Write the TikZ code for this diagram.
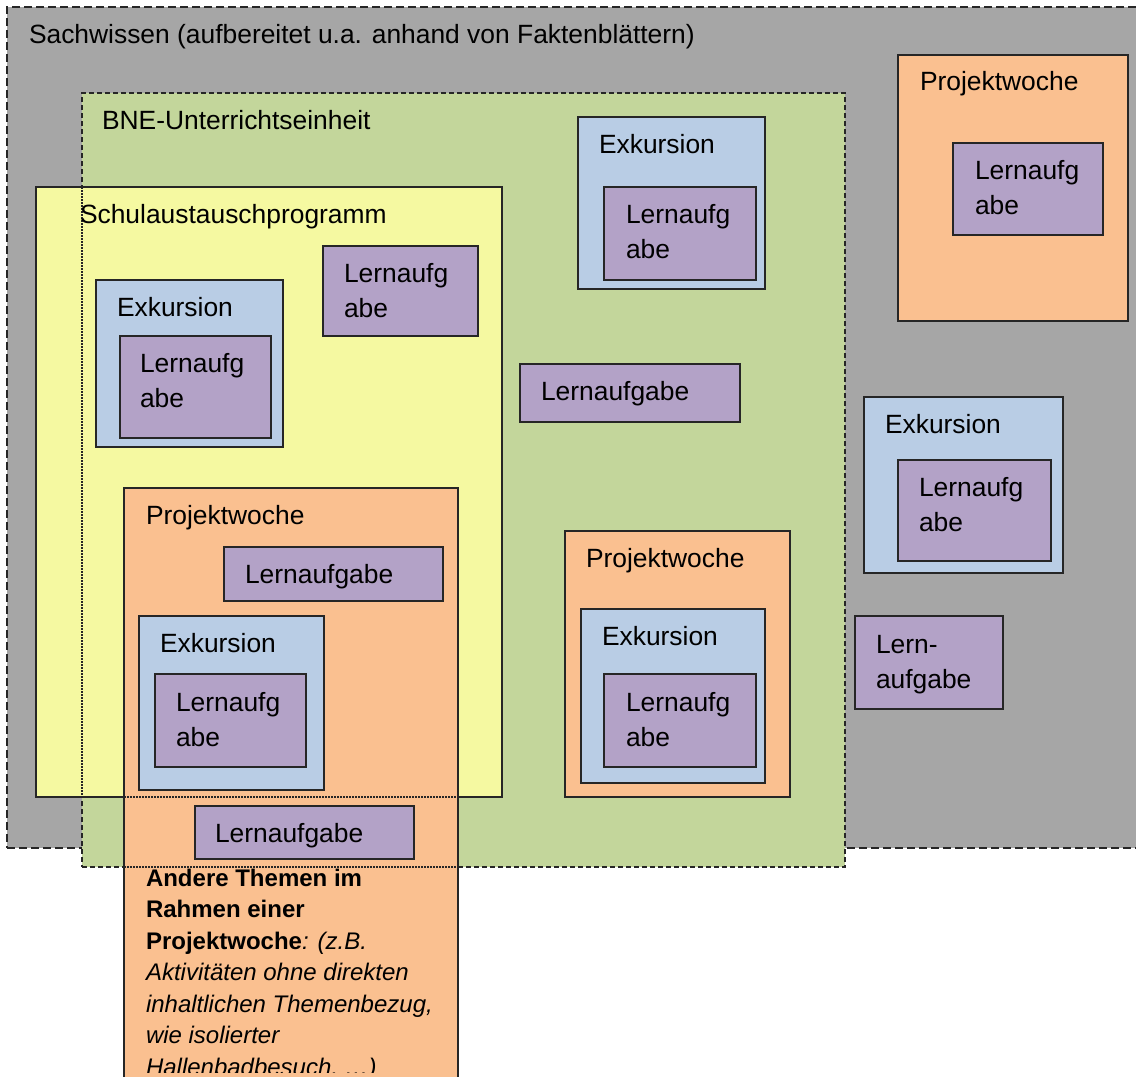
\documentclass[tikz,border=0pt]{standalone}
\usepackage{fontspec}
\setmainfont{Liberation Sans}
\definecolor{cgray}{HTML}{A6A6A6}
\definecolor{cgreen}{HTML}{C3D69B}
\definecolor{cyellow}{HTML}{F5F9A1}
\definecolor{corange}{HTML}{FAC090}
\definecolor{cblue}{HTML}{B9CDE5}
\definecolor{cpurple}{HTML}{B3A2C7}
\definecolor{cline}{HTML}{262626}
\begin{document}
\begin{tikzpicture}[x=1pt,y=-1pt,
  frame/.style={draw=cline, line width=1.3pt, inner sep=0pt, outer sep=0pt, anchor=north west},
  sachbox/.style={frame, fill=cgray, dash pattern=on 8pt off 4pt},
  bnebox/.style={frame, fill=cgreen, dash pattern=on 5pt off 3pt},
  schulbox/.style={frame, fill=cyellow},
  projbox/.style={frame, fill=corange},
  exkbox/.style={frame, fill=cblue},
  lernbox/.style={frame, fill=cpurple},
  seeline/.style={draw=cline, line width=1.5pt, dash pattern=on 1.5pt off 1.5pt},
  txt/.style={anchor=base west, inner sep=0pt, outer sep=0pt, align=left,
    font=\fontsize{26.4}{35}\selectfont},
  smalltxt/.style={anchor=base west, inner sep=0pt, outer sep=0pt, align=left,
    font=\fontsize{24}{31.5}\selectfont},
]
\useasboundingbox (0,0) rectangle (1136,1077);
\begin{scope}
\clip (0,0) rectangle (1136,1077);
% outer boxes
\node[sachbox, minimum width=1140pt, minimum height=841pt] (sach) at (7,7) {};
\node[txt] (sachT) at (29,43) {Sachwissen (aufbereitet u.a. anhand von Faktenblättern)};
\node[bnebox, minimum width=763pt, minimum height=774pt] (bne) at (82,93) {};
\node[txt] (bneT) at (102,129) {BNE-Unterrichtseinheit};
\node[schulbox, minimum width=466pt, minimum height=610pt] (schul) at (36,187) {};
\coordinate (gA) at (82,187);
\coordinate (gB) at (82,797);
\draw[seeline] (gA) -- (gB);
\node[txt] (schulT) at (80,223) {Schulaustauschprogramm};

% top middle Exkursion
\node[exkbox, minimum width=187pt, minimum height=172pt] (exk1) at (578,117) {};
\node[txt] (exk1T) at (599,153) {Exkursion};
\node[lernbox, minimum width=152pt, minimum height=93pt] (l1) at (604,187) {};
\node[txt] (l1T) at (626,258) {Lernaufg\\abe};

% top right Projektwoche
\node[projbox, minimum width=230pt, minimum height=266pt] (proj1) at (898,55) {};
\node[txt] (proj1T) at (920,90) {Projektwoche};
\node[lernbox, minimum width=150pt, minimum height=92pt] (l2) at (953,143) {};
\node[txt] (l2T) at (975,214) {Lernaufg\\abe};

% Lernaufgabe in Schulaustausch
\node[lernbox, minimum width=155pt, minimum height=90pt] (l3) at (323,246) {};
\node[txt] (l3T) at (344,317) {Lernaufg\\abe};

% Exkursion in Schulaustausch
\node[exkbox, minimum width=187pt, minimum height=167pt] (exk2) at (96,280) {};
\node[txt] (exk2T) at (117,316) {Exkursion};
\node[lernbox, minimum width=151pt, minimum height=102pt] (l4) at (120,336) {};
\node[txt] (l4T) at (140,407) {Lernaufg\\abe};

% middle Lernaufgabe
\node[lernbox, minimum width=220pt, minimum height=58pt] (l5) at (520,364) {};
\node[txt] (l5T) at (541,400) {Lernaufgabe};

% right Exkursion
\node[exkbox, minimum width=199pt, minimum height=176pt] (exk3) at (864,397) {};
\node[txt] (exk3T) at (885,433) {Exkursion};
\node[lernbox, minimum width=153pt, minimum height=101pt] (l6) at (898,460) {};
\node[txt] (l6T) at (919,531) {Lernaufg\\abe};

% right Lern-aufgabe
\node[lernbox, minimum width=148pt, minimum height=93pt] (l7) at (855,616) {};
\node[txt] (l7T) at (876,688) {Lern-\\aufgabe};

% middle Projektwoche
\node[projbox, minimum width=225pt, minimum height=266pt] (proj2) at (565,531) {};
\node[txt] (proj2T) at (586,567) {Projektwoche};
\node[exkbox, minimum width=184pt, minimum height=174pt] (exk4) at (581,609) {};
\node[txt] (exk4T) at (602,645) {Exkursion};
\node[lernbox, minimum width=152pt, minimum height=93pt] (l8) at (604,674) {};
\node[txt] (l8T) at (626,746) {Lernaufg\\abe};

% left Projektwoche column
\node[projbox, minimum width=334pt, minimum height=620pt] (proj3) at (124,488) {};
\node[txt] (proj3T) at (146,524) {Projektwoche};
\coordinate (yA) at (124,797);
\coordinate (yB) at (458,797);
\coordinate (gC) at (124,867);
\coordinate (gD) at (458,867);
\draw[seeline] (yA) -- (yB);
\draw[seeline] (gC) -- (gD);
\node[lernbox, minimum width=219pt, minimum height=54pt] (l9) at (224,547) {};
\node[txt] (l9T) at (245,583) {Lernaufgabe};
\node[exkbox, minimum width=185pt, minimum height=174pt] (exk5) at (139,616) {};
\node[txt] (exk5T) at (160,652) {Exkursion};
\node[lernbox, minimum width=151pt, minimum height=93pt] (l10) at (155,674) {};
\node[txt] (l10T) at (176,746) {Lernaufg\\abe};
\node[lernbox, minimum width=219pt, minimum height=53pt] (l11) at (195,806) {};
\node[txt] (l11T) at (215,842) {Lernaufgabe};
\begin{scope}
\clip (124,860) rectangle (458,1072);
\node[smalltxt] (note) at (146,1075) {\textbf{Andere Themen im}\\\textbf{Rahmen einer}\\\textbf{Projektwoche}\textit{: (z.B.}\\\textit{Aktivitäten ohne direkten}\\\textit{inhaltlichen Themenbezug,}\\\textit{wie isolierter}\\\textit{Hallenbadbesuch, …)}};
\end{scope}
\end{scope}
\end{tikzpicture}
\end{document}
